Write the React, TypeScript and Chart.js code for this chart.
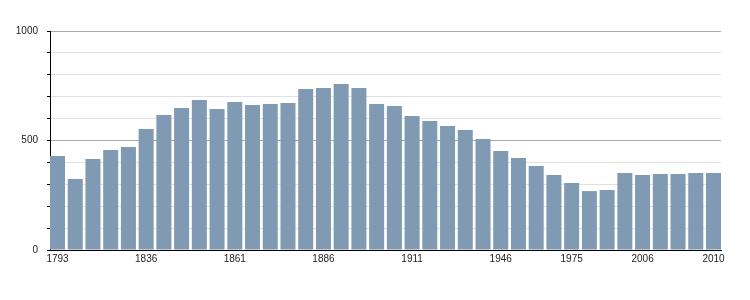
import React, { useEffect, useRef } from "react";
import { Chart, registerables } from "chart.js";

Chart.register(...registerables);

const years: string[] = [
  "1793", "1800", "1806", "1821", "1831", "1836", "1841", "1846", "1851", "1856",
  "1861", "1866", "1872", "1876", "1881", "1886", "1891", "1896", "1901", "1906",
  "1911", "1921", "1926", "1931", "1936", "1946", "1954", "1962", "1968", "1975",
  "1982", "1990", "1999", "2006", "2007", "2008", "2009", "2010",
];

const population: number[] = [
  429, 324, 415, 457, 470, 552, 616, 648, 685, 644,
  676, 662, 667, 671, 735, 740, 758, 740, 667, 658,
  612, 589, 566, 548, 507, 452, 420, 384, 342, 306,
  269, 274, 352, 342, 347, 347, 352, 352,
];

const shownYears: string[] = ["1793", "1836", "1861", "1886", "1911", "1946", "1975", "2006", "2010"];
const yLabels: number[] = [0, 500, 1000];

export default function App() {
  const ref = useRef<HTMLCanvasElement | null>(null);

  useEffect(() => {
    if (!ref.current) return;
    Chart.defaults.font.family = "'Liberation Sans', Arial, sans-serif";
    Chart.defaults.font.size = 10;
    Chart.defaults.color = "#222";
    const chart = new Chart(ref.current, {
      type: "bar",
      data: {
        datasets: [
          {
            data: population.map((v, i) => ({ x: i, y: v })),
            backgroundColor: "rgb(127,154,178)",
            borderWidth: 0,
            categoryPercentage: 1,
            barPercentage: 0.846,
          },
        ],
      },
      options: {
        responsive: false,
        animation: false,
        events: [],
        layout: { padding: { left: 0, right: 29, top: 31, bottom: 20 } },
        plugins: { legend: { display: false }, tooltip: { enabled: false } },
        scales: {
          x: {
            type: "linear",
            offset: false,
            bounds: "data",
            min: -0.423,
            max: 37.423,
            grid: { display: false, drawTicks: false, offset: false },
            border: { display: true, color: "#000", width: 1 },
            ticks: {
              autoSkip: false,
              maxRotation: 0,
              padding: 3,
              callback: (value: any) => years[Math.round(Number(value))] ?? "",
            },
            afterBuildTicks: (axis: any) => {
              axis.ticks = shownYears.map((y) => ({ value: years.indexOf(y) }));
            },
            afterFit: (axis: any) => {
              axis.height = 30;
            },
          },
          y: {
            min: 0,
            max: 1000,
            ticks: {
              stepSize: 100,
              padding: 9,
              autoSkip: false,
              callback: (value: any) => (yLabels.includes(Number(value)) ? String(value) : ""),
            },
            grid: {
              color: (ctx: any) => {
                const v = ctx.tick ? ctx.tick.value : 0;
                if (v === 0) return "#000";
                return v % 500 === 0 ? "#aaaaaa" : "#e0e0e0";
              },
              tickColor: "#000",
              tickLength: 3,
              lineWidth: 1,
            },
            border: { display: true, color: "#000", width: 1 },
            afterFit: (axis: any) => {
              axis.width = 50;
            },
          },
        },
      },
    } as any);
    return () => chart.destroy();
  }, []);

  return (
    <div style={{ position: "absolute", left: 0, top: 0, width: 750, height: 300, background: "#fff" }}>
      <canvas ref={ref} width={750} height={300} />
    </div>
  );
}
